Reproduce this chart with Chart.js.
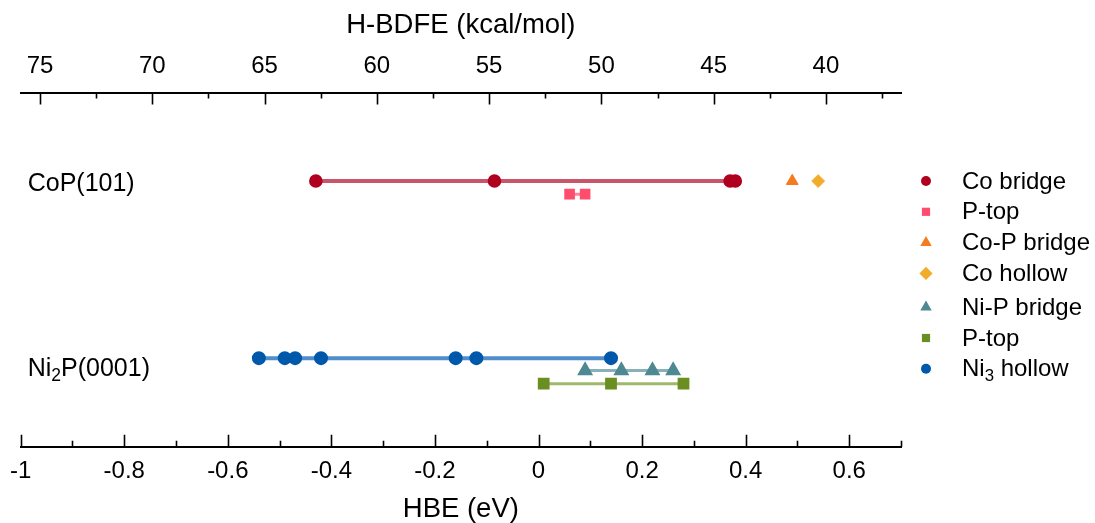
<!DOCTYPE html>
<html>
<head>
<meta charset="utf-8">
<script src="https://cdn.jsdelivr.net/npm/chart.js@4.4.0/dist/chart.umd.min.js"></script>
<style>
  html, body { margin: 0; padding: 0; background: #fff; }
  #wrap { width: 1095px; height: 523px; position: relative; }
</style>
</head>
<body>
<div id="wrap"><canvas id="c"></canvas></div>
<script>
// Hydrogen binding energies (eV) per adsorption site
const coBridge  = [-0.43, -0.085, 0.37, 0.38];
const copPTop   = [0.06, 0.09];
const coPBridge = [0.49];
const coHollow  = [0.54];
const niPBridge = [0.09, 0.16, 0.22, 0.26];
const ni2pPTop  = [0.01, 0.14, 0.28];
const ni3Hollow = [-0.54, -0.49, -0.47, -0.42, -0.16, -0.12, 0.14];

// Axis tick labels
const hbeTicks  = [-1, -0.8, -0.6, -0.4, -0.2, 0, 0.2, 0.4, 0.6];
const bdfeTicks = [75, 70, 65, 60, 55, 50, 45, 40];

// HBE (eV) -> H-BDFE (kcal/mol)
const EV_TO_KCAL = 23.06;
const BDFE_AT_ZERO = 52.8;
const toBDFE = hbe => BDFE_AT_ZERO - EV_TO_KCAL * hbe;

const HBE_MIN = -1, HBE_MAX = 0.7;

// vertical layout of the two surface rows (hidden y scale 0..10)
const ROW_COP = 7.5, ROW_NI2P = 2.5;
const LABEL_COP = 7.42, LABEL_NI2P = 2.2;

const FONT = "'Liberation Sans', Arial, Helvetica, sans-serif";
const pts = (xs, y) => xs.map(x => ({ x, y }));

const datasets = [
  { label: 'Co bridge', data: pts(coBridge, ROW_COP), showLine: true,
    borderColor: 'rgba(190,55,80,0.85)', borderWidth: 4,
    pointStyle: 'circle', pointRadius: 4.8, pointBackgroundColor: '#B00020', pointBorderColor: '#B00020' },
  { label: 'P-top', data: pts(copPTop, ROW_COP - 0.37), showLine: true,
    borderColor: 'rgba(255,120,145,0.9)', borderWidth: 3,
    pointStyle: 'rect', pointRadius: 5.4, pointBackgroundColor: '#FF4D6D', pointBorderColor: '#FF4D6D' },
  { label: 'Co-P bridge', data: pts(coPBridge, ROW_COP), showLine: false,
    pointStyle: 'triangle', pointRadius: 6.8, pointBackgroundColor: '#F47B20', pointBorderColor: '#F47B20' },
  { label: 'Co hollow', data: pts(coHollow, ROW_COP), showLine: false,
    pointStyle: 'rectRot', pointRadius: 6.4, pointBackgroundColor: '#F2AC2C', pointBorderColor: '#F2AC2C' },
  { label: 'Ni-P bridge', data: pts(niPBridge, ROW_NI2P - 0.35), showLine: true,
    borderColor: 'rgba(130,172,180,0.95)', borderWidth: 3,
    pointStyle: 'triangle', pointRadius: 6.2, pointBackgroundColor: '#4E8893', pointBorderColor: '#4E8893' },
  { label: 'P-top', data: pts(ni2pPTop, ROW_NI2P - 0.72), showLine: true,
    borderColor: 'rgba(155,180,100,0.95)', borderWidth: 3,
    pointStyle: 'rect', pointRadius: 6.2, pointBackgroundColor: '#6B8E23', pointBorderColor: '#6B8E23' },
  { label: 'Ni\u2083 hollow', data: pts(ni3Hollow, ROW_NI2P), showLine: true,
    borderColor: 'rgba(70,135,200,0.95)', borderWidth: 4,
    pointStyle: 'circle', pointRadius: 5, pointBackgroundColor: '#0058AA', pointBorderColor: '#0058AA' }
];

// Text with an optional subscript segment: [[text, isSub], ...]
function drawRich(ctx, parts, x, y, size) {
  let cx = x;
  ctx.textBaseline = 'middle';
  ctx.textAlign = 'left';
  for (const [t, sub] of parts) {
    const s = sub ? size * 0.7 : size;
    ctx.font = s + 'px ' + FONT;
    ctx.fillText(t, cx, sub ? y + size * 0.28 : y);
    cx += ctx.measureText(t).width;
  }
}

// Inward tick marks (major + minor) for both horizontal axes
const tickMarks = {
  id: 'tickMarks',
  afterDraw(chart) {
    const { ctx, chartArea } = chart;
    const xs = chart.scales.x, xt = chart.scales.x2;
    ctx.save();
    ctx.strokeStyle = '#000';
    ctx.lineWidth = 1.6;
    ctx.beginPath();
    for (let i = -10; i <= 7; i++) {
      const px = Math.round(xs.getPixelForValue(i / 10)) + 0.5;
      const len = (i % 2 === 0) ? 12 : 6;
      ctx.moveTo(px, chartArea.bottom);
      ctx.lineTo(px, chartArea.bottom - len);
    }
    for (let k = 15; k <= 30; k++) {
      const v = k * 2.5;
      const px = Math.round(xt.getPixelForValue(v)) + 0.5;
      const len = (k % 2 === 0) ? 12 : 6;
      ctx.moveTo(px, chartArea.top);
      ctx.lineTo(px, chartArea.top + len);
    }
    ctx.stroke();
    ctx.restore();
  }
};

// Surface names and the legend at the right
const annotations = {
  id: 'annotations',
  afterDraw(chart) {
    const { ctx, chartArea } = chart;
    const ys = chart.scales.y;
    ctx.save();
    ctx.fillStyle = '#000';
    drawRich(ctx, [['CoP(101)', false]], chartArea.left + 7, ys.getPixelForValue(LABEL_COP), 25);
    drawRich(ctx, [['Ni', false], ['2', true], ['P(0001)', false]], chartArea.left + 7, ys.getPixelForValue(LABEL_NI2P), 25);

    const names = [
      [['Co bridge', false]], [['P-top', false]], [['Co-P bridge', false]], [['Co hollow', false]],
      [['Ni-P bridge', false]], [['P-top', false]], [['Ni', false], ['3', true], [' hollow', false]]
    ];
    const mx = chartArea.right + 25, tx = chartArea.right + 61;
    chart.data.datasets.forEach((ds, i) => {
      const y = 181 + i * 30.8 + (i >= 4 ? 3 : 0);
      ctx.fillStyle = ds.pointBackgroundColor;
      ctx.strokeStyle = ds.pointBackgroundColor;
      Chart.helpers.drawPoint(ctx, {
        pointStyle: ds.pointStyle, rotation: 0, borderWidth: 0,
        radius: ds.pointStyle === 'circle' ? 5 : ds.pointStyle === 'rect' ? 5.8 : 6.6
      }, mx, y);
      ctx.fillStyle = '#000';
      drawRich(ctx, names[i], tx, y + 1, 24);
    });
    ctx.restore();
  }
};

new Chart(document.getElementById('c'), {
  type: 'scatter',
  data: { datasets },
  options: {
    responsive: true,
    maintainAspectRatio: false,
    animation: false,
    layout: { padding: { left: 20, right: 194, top: 6, bottom: 0 } },
    plugins: { legend: { display: false }, tooltip: { enabled: false } },
    scales: {
      x: {
        type: 'linear', position: 'bottom', min: HBE_MIN, max: HBE_MAX,
        afterBuildTicks: s => { s.ticks = hbeTicks.map(v => ({ value: v })); },
        ticks: {
          color: '#000', font: { family: FONT, size: 24 }, padding: 10,
          autoSkip: false, maxRotation: 0,
          callback: v => String(Math.round(v * 10) / 10)
        },
        grid: { drawOnChartArea: false, drawTicks: false },
        border: { display: true, color: '#000', width: 2 },
        title: { display: true, text: 'HBE (eV)', color: '#000',
                 font: { family: FONT, size: 27.5, lineHeight: 1 }, padding: { top: 0, bottom: 0 } }
      },
      x2: {
        type: 'linear', position: 'top', reverse: true,
        min: toBDFE(HBE_MAX), max: toBDFE(HBE_MIN),
        afterBuildTicks: s => { s.ticks = bdfeTicks.map(v => ({ value: v })); },
        ticks: {
          color: '#000', font: { family: FONT, size: 24, lineHeight: 1 }, padding: 14,
          autoSkip: false, maxRotation: 0,
          callback: v => String(v)
        },
        grid: { drawOnChartArea: false, drawTicks: false },
        border: { display: true, color: '#000', width: 2 },
        title: { display: true, text: 'H-BDFE (kcal/mol)', color: '#000',
                 font: { family: FONT, size: 27.5, lineHeight: 1 }, padding: { top: 6, bottom: 1 } }
      },
      y: { type: 'linear', display: false, min: 0, max: 10 }
    }
  },
  plugins: [tickMarks, annotations]
});
</script>
</body>
</html>
